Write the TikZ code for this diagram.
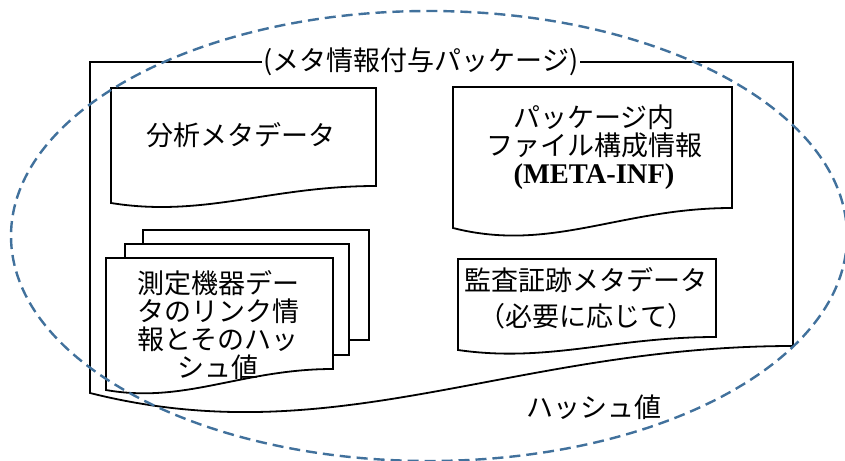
\documentclass[tikz,border=0pt]{standalone}
\usepackage{fontspec}
\setmainfont{Liberation Serif}
\newfontfamily\jp{Noto Sans CJK JP}
\definecolor{ellblue}{HTML}{41719C}
\tikzset{
  docshape/.style={draw=black, line width=1.8pt, fill=white, line join=miter},
  lbl/.style={font=\jp\fontsize{27}{28}\selectfont, align=center, inner sep=0pt},
  ell/.style={draw=ellblue, line width=2.4pt, dash pattern=on 11pt off 6pt},
}
\begin{document}
\begin{tikzpicture}[x=1pt,y=-1pt]
\useasboundingbox (0,0) rectangle (845,460);
\fill[white] (0,0) rectangle (845,460);
% package outline
\draw[docshape, fill=none] (90,62) -- (793,62) -- (793,346) .. controls (512,346) and (336,455) .. (90,393) -- cycle;
\node[lbl, fill=white, inner xsep=2pt, inner ysep=1pt] (title) at (421,62) {(メタ情報付与パッケージ)};
% analysis metadata
\draw[docshape] (111,88) -- (376,88) -- (376,186) .. controls (270,186) and (204,218) .. (111,203) -- cycle;
\node[lbl] (analysis) at (241,135) {分析メタデータ};
% package file info
\draw[docshape] (453,87) -- (732,87) -- (732,208) .. controls (620,208) and (551,253) .. (453,228) -- cycle;
\node[lbl] (inf) at (594,147) {パッケージ内\\ファイル構成情報\\{\rmfamily\bfseries\fontsize{28.5}{28}\selectfont(META-INF)}};
% audit metadata
\draw[docshape] (458,259) -- (716,259) -- (716,337) .. controls (613,337) and (548,363) .. (458,350) -- cycle;
\node[lbl, font=\jp\fontsize{27}{36}\selectfont] (audit) at (586,298) {監査証跡メタデータ\\（必要に応じて）};
% stacked documents
\draw[docshape] (143,230) rectangle (369,340);
\draw[docshape] (125,244) rectangle (349,355);
\draw[docshape] (106,258) -- (333,258) -- (333,369) .. controls (242,369) and (185,404) .. (106,390) -- cycle;
\node[lbl] (link) at (218,325) {測定機器デー\\タのリンク情\\報とそのハッ\\シュ値};
% hash label
\node[lbl] (hash) at (594,407) {ハッシュ値};
% dashed ellipse
\draw[ell] (429,236) ellipse [x radius=418, y radius=225];
\end{tikzpicture}
\end{document}
